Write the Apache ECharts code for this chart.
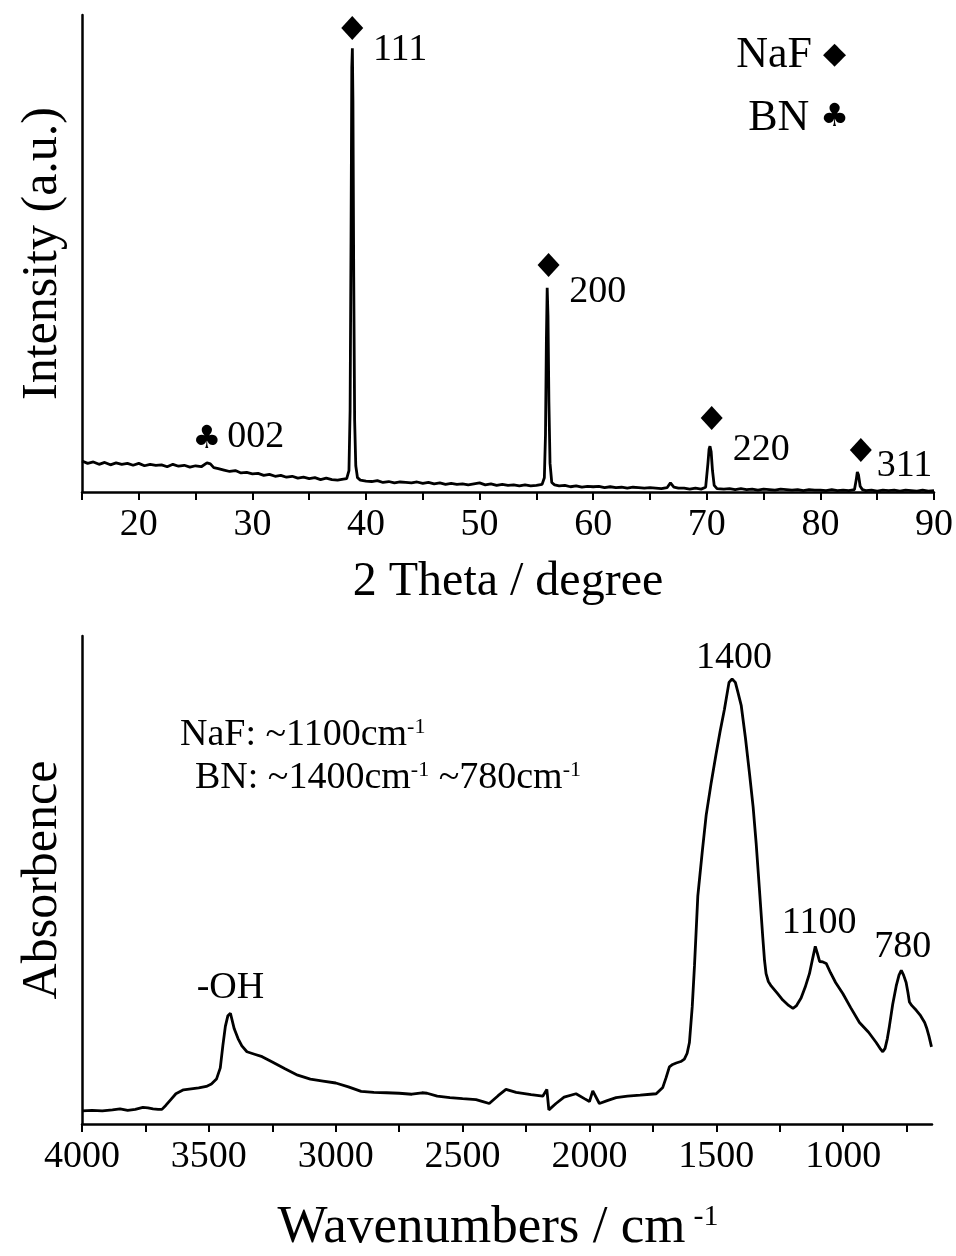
<!DOCTYPE html>
<html>
<head>
<meta charset="utf-8">
<script src="https://cdn.jsdelivr.net/npm/echarts@6/dist/echarts.min.js"></script>
<style>
html,body{margin:0;padding:0;background:#fff;}
#chart{width:956px;height:1256px;}
</style>
</head>
<body>
<div id="chart"></div>
<script>
const FONT = '"Liberation Serif", "Times New Roman", serif';
const SYM_FONT = '"DejaVu Sans", sans-serif';

// ---------- XRD (top panel) ----------
const twoTheta = [
15.0,15.5,16.0,16.5,17.0,17.5,18.0,18.5,19.0,19.5,20.0,20.5,21.0,21.5,22.0,22.5,23.0,23.5,24.0,24.5,
25.0,25.5,26.0,26.3,26.6,27.0,27.5,28.0,28.5,29.0,29.5,30.0,30.5,31.0,31.5,32.0,32.5,33.0,33.5,34.0,
34.5,35.0,35.5,36.0,36.5,37.0,37.5,38.0,38.3,38.5,38.6,38.68,38.75,38.8,38.85,38.92,39.0,39.1,39.25,39.5,
40.0,40.5,41.0,41.5,42.0,42.5,43.0,43.5,44.0,44.5,45.0,45.5,46.0,46.5,47.0,47.5,48.0,48.5,49.0,49.5,
50.0,50.5,51.0,51.5,52.0,52.5,53.0,53.5,54.0,54.5,55.0,55.5,55.7,55.8,55.88,55.95,56.02,56.1,56.2,56.35,
56.6,57.0,57.5,58.0,58.5,59.0,59.5,60.0,60.5,61.0,61.5,62.0,62.5,63.0,63.5,64.0,64.5,65.0,65.5,66.0,
66.5,66.8,67.1,67.5,68.0,68.5,69.0,69.5,69.9,70.1,70.2,70.28,70.38,70.5,70.65,70.9,71.5,72.0,72.5,73.0,
73.5,74.0,74.5,75.0,75.5,76.0,76.5,77.0,77.5,78.0,78.5,79.0,79.5,80.0,80.5,81.0,81.5,82.0,82.5,83.0,
83.15,83.25,83.35,83.5,83.7,84.0,84.5,85.0,85.5,86.0,86.5,87.0,87.5,88.0,88.5,89.0,89.5,90.0
];
const intensity = [
65,60,63,58,62,57,61,58,60,56,60,55,58,56,57,53,58,54,56,52,
55,53,61,59,51,49,46,43,45,40,41,38,39,35,37,33,35,31,33,29,
31,28,30,26,29,26,25,27,28,45,170,520,890,930,820,450,150,55,30,25,
23,22,24,20,22,19,21,20,19,21,18,20,17,19,16,18,16,17,15,17,
19,15,17,14,16,14,15,13,15,13,14,16,30,120,320,428,370,190,60,20,
15,13,14,11,13,10,12,11,12,9,11,9,10,8,10,9,8,9,8,7,
9,19,10,8,8,6,8,6,10,60,90,96,85,45,14,7,6,7,5,7,
5,6,4,6,5,4,6,5,4,5,3,5,4,4,3,5,3,4,3,5,
25,42,36,12,5,3,4,2,4,3,4,2,4,3,2,4,2,3
];
const naFMarkX = [38.79, 56.07, 70.43, 83.56];
const naFMarkY = [973, 476, 155, 88];
const bnMarkX = [26.0];
const bnMarkY = [110];
const xrdLabelX = [43.0, 60.4, 74.8, 87.4, 30.3];
const xrdLabelY = [927, 419, 88, 55, 115];
const xrdLabelText = ['111', '200', '220', '311', '002'];
const xrdTicks = [15,20,25,30,35,40,45,50,55,60,65,70,75,80,85,90];
const xrdTickLabels = [20,30,40,50,60,70,80,90];

// ---------- FTIR (bottom panel) ----------
const wavenumber = [
4000,3960,3920,3880,3850,3820,3790,3760,3740,3720,3700,3685,3670,3650,3630,3600,3570,3540,3510,3490,
3470,3455,3445,3435,3425,3415,3400,3385,3370,3350,3320,3290,3250,3200,3150,3100,3050,3000,2950,2900,
2850,2800,2750,2700,2660,2640,2600,2550,2500,2447,2420,2395,2360,2329,2289,2230,2184,2168,2160,2132,
2100,2053,2020,2000,1987,1961,1930,1895,1850,1800,1760,1737,1711,1698,1685,1672,1658,1640,1626,1615,
1606,1595,1586,1580,1573,1555,1540,1520,1501,1485,1468,1450,1438,1425,1415,1402,1385,1369,1355,1343,
1330,1317,1310,1304,1295,1284,1260,1238,1215,1198,1185,1166,1150,1133,1120,1110,1102,1093,1080,1067,
1050,1030,1001,970,936,900,870,855,844,835,826,818,805,791,780,771,762,752,745,739,
730,712,695,679,670,662,652
];
const absorbance = [
27,28,27,29,31,28,30,34,33,31,30,30,38,50,62,70,72,74,77,82,
92,115,160,200,222,227,195,175,160,148,143,138,127,113,100,92,88,84,76,67,
65,64,63,61,64,63,57,54,52,50,46,42,58,71,65,60,57,71,29,42,
55,62,52,46,68,42,48,54,57,59,61,62,75,95,117,122,125,128,133,145,
167,240,325,390,467,560,633,700,758,805,850,905,912,905,885,858,790,717,650,575,
480,383,335,308,292,283,268,254,243,237,242,258,280,308,340,364,350,333,332,329,
310,290,267,238,208,188,167,155,148,155,175,200,245,283,305,315,305,290,270,250,
243,233,222,208,195,180,158
];
const ftirLabelX = [3415, 1430, 1095, 765];
const ftirLabelY = [279, 954, 412, 363];
const ftirLabelText = ['-OH', '1400', '1100', '780'];
const ftirTicks = [750,1000,1250,1500,1750,2000,2250,2500,2750,3000,3250,3500,3750,4000];
const ftirTickLabels = [1000,1500,2000,2500,3000,3500,4000];

// ---------- build ----------
const zip = (a, b) => a.map((v, i) => [v, b[i]]);
const axisLineStyle = { color: '#000', width: 2.5 };
const tickStyle = { color: '#000', width: 2 };

function xAxisCommon(extra) {
  return Object.assign({
    type: 'value',
    axisLine: { show: true, onZero: false, lineStyle: axisLineStyle },
    splitLine: { show: false },
    nameLocation: 'middle'
  }, extra);
}
function yAxisCommon(extra) {
  return Object.assign({
    type: 'value',
    min: 0, max: 1000,
    axisLine: { show: true, onZero: false, lineStyle: axisLineStyle },
    axisTick: { show: false },
    axisLabel: { show: false },
    splitLine: { show: false },
    nameLocation: 'middle',
    nameGap: 14,
    nameTextStyle: { color: '#000', fontFamily: FONT, fontSize: 50 }
  }, extra);
}
function labelSeries(xi, xs, ys, texts, fontSize) {
  return {
    type: 'scatter', xAxisIndex: xi, yAxisIndex: xi, silent: true,
    symbolSize: 0,
    itemStyle: { opacity: 1 },
    data: zip(xs, ys),
    label: {
      show: true, position: 'inside', color: '#000', fontFamily: FONT, fontSize: fontSize,
      formatter: p => texts[p.dataIndex]
    },
    z: 5
  };
}

const option = {
  backgroundColor: '#fff',
  animation: false,
  grid: [
    { left: 82, right: 21, top: 15, height: 477 },
    { left: 82, right: 24, top: 636, height: 489 }
  ],
  xAxis: [
    xAxisCommon({
      gridIndex: 0, min: 15, max: 90,
      axisTick: { show: true, inside: false, length: 8, customValues: xrdTicks, lineStyle: tickStyle },
      axisLabel: { color: '#000', fontFamily: FONT, fontSize: 38, margin: 14, customValues: xrdTickLabels, formatter: v => String(v) },
      name: '2 Theta / degree', nameGap: 66,
      nameTextStyle: { color: '#000', fontFamily: FONT, fontSize: 48 }
    }),
    xAxisCommon({
      gridIndex: 1, min: 650, max: 4000, inverse: true,
      axisTick: { show: true, inside: false, length: 8, customValues: ftirTicks, lineStyle: tickStyle },
      axisLabel: { color: '#000', fontFamily: FONT, fontSize: 38, margin: 14, customValues: ftirTickLabels, formatter: v => String(v) },
      name: '{t|Wavenumbers / cm}{s|-1}', nameGap: 78,
      nameTextStyle: {
        color: '#000', fontFamily: FONT, fontSize: 53, padding: [0, 18, 0, 0],
        rich: {
          t: { fontFamily: FONT, fontSize: 53, color: '#000' },
          s: { fontFamily: FONT, fontSize: 30, color: '#000', verticalAlign: 'top', padding: [0, 0, 0, 8] }
        }
      }
    })
  ],
  yAxis: [
    yAxisCommon({ gridIndex: 0, name: 'Intensity (a.u.)' }),
    yAxisCommon({ gridIndex: 1, name: 'Absorbence' })
  ],
  graphic: [
    {
      type: 'text', x: 846, y: 55,
      style: {
        text: '{t|NaF }{d|◆}', align: 'right', verticalAlign: 'middle',
        rich: {
          t: { fontFamily: FONT, fontSize: 44, fill: '#000' },
          d: { fontFamily: SYM_FONT, fontSize: 30, fill: '#000' }
        }
      }
    },
    {
      type: 'text', x: 849, y: 118,
      style: {
        text: '{t|BN }{d|♣}', align: 'right', verticalAlign: 'middle',
        rich: {
          t: { fontFamily: FONT, fontSize: 44, fill: '#000' },
          d: { fontFamily: SYM_FONT, fontSize: 32, fill: '#000' }
        }
      }
    },
    {
      type: 'text', x: 180, y: 735,
      style: {
        text: '{t|NaF: ~1100cm}{s|-1}', verticalAlign: 'middle',
        rich: {
          t: { fontFamily: FONT, fontSize: 38, fill: '#000' },
          s: { fontFamily: FONT, fontSize: 22, fill: '#000', verticalAlign: 'top' }
        }
      }
    },
    {
      type: 'text', x: 195, y: 778,
      style: {
        text: '{t|BN: ~1400cm}{s|-1}{t| ~780cm}{s|-1}', verticalAlign: 'middle',
        rich: {
          t: { fontFamily: FONT, fontSize: 38, fill: '#000' },
          s: { fontFamily: FONT, fontSize: 22, fill: '#000', verticalAlign: 'top' }
        }
      }
    }
  ],
  series: [
    {
      type: 'line', xAxisIndex: 0, yAxisIndex: 0, showSymbol: false, silent: true,
      data: zip(twoTheta, intensity),
      lineStyle: { color: '#000', width: 2.8 }
    },
    {
      type: 'scatter', xAxisIndex: 0, yAxisIndex: 0, silent: true,
      symbol: 'diamond', symbolSize: [22, 24],
      itemStyle: { color: '#000', opacity: 1 },
      data: zip(naFMarkX, naFMarkY)
    },
    {
      type: 'scatter', xAxisIndex: 0, yAxisIndex: 0, silent: true,
      symbolSize: 0,
      itemStyle: { opacity: 1 },
      data: zip(bnMarkX, bnMarkY),
      label: { show: true, position: 'inside', formatter: '♣', fontFamily: SYM_FONT, fontSize: 32, color: '#000' }
    },
    labelSeries(0, xrdLabelX, xrdLabelY, xrdLabelText, 38),
    {
      type: 'line', xAxisIndex: 1, yAxisIndex: 1, showSymbol: false, silent: true,
      data: zip(wavenumber, absorbance),
      lineStyle: { color: '#000', width: 2.8 }
    },
    labelSeries(1, ftirLabelX, ftirLabelY, ftirLabelText, 38)
  ]
};

const chart = echarts.init(document.getElementById('chart'), null, { renderer: 'canvas' });
chart.setOption(option);
</script>
</body>
</html>
